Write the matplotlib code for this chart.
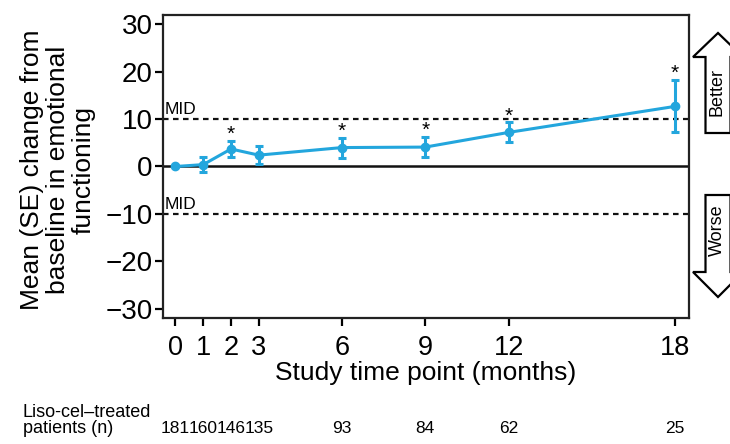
import matplotlib
matplotlib.use("Agg")
import matplotlib.pyplot as plt
import matplotlib.transforms as mtransforms
from matplotlib.patches import Polygon

plt.rcParams['font.family'] = ['Liberation Sans', 'DejaVu Sans']

# values
months = [0, 1, 2, 3, 6, 9, 12, 18]
mean_change = [0.0, 0.4, 3.7, 2.4, 4.0, 4.1, 7.2, 12.7]
se = [0.0, 1.6, 1.7, 1.9, 2.1, 2.1, 2.1, 5.5]
significant = [False, False, True, False, True, True, True, True]
n_patients = [181, 160, 146, 135, 93, 84, 62, 25]
mid = 10
y_ticks = [-30, -20, -10, 0, 10, 20, 30]

blue = '#23a6dd'
W, H = 730, 444

fig = plt.figure(figsize=(W / 100, H / 100), dpi=100)
ax = fig.add_axes([163 / W, 1 - 318 / H, (689 - 163) / W, (318 - 15) / H])

ax.axhline(0, color='#111111', lw=1.8, zorder=1)
ax.axhline(mid, color='#111111', lw=1.6, ls=(0, (2.5, 2)), zorder=1)
ax.axhline(-mid, color='#111111', lw=1.6, ls=(0, (2.5, 2)), zorder=1)
ax.text(-0.38, mid + 0.4, 'MID', fontsize=12.5, ha='left', va='bottom')
ax.text(-0.38, -mid + 0.4, 'MID', fontsize=12.5, ha='left', va='bottom')

ax.errorbar(months, mean_change, yerr=se, color=blue, lw=2.2, marker='o', ms=6,
            capsize=3, capthick=2.2, elinewidth=2.2, zorder=3)

for m, v, e, s in zip(months, mean_change, se, significant):
    if s:
        ax.text(m, v + e + 1.4, '*', fontsize=15, ha='center', va='center')

ax.set_xlim(-0.45, 18.5)
ax.set_ylim(-32, 32)
ax.set_xticks(months)
ax.set_yticks(y_ticks)
ax.tick_params(axis='x', labelsize=19.5, length=6, width=1.6, pad=6)
ax.tick_params(axis='y', labelsize=20, length=6, width=1.6, pad=1.5)
for sp in ax.spines.values():
    sp.set_linewidth(1.6)
    sp.set_color('#222222')

ax.set_xlabel('Study time point (months)', fontsize=19, labelpad=0)
fig.text(58 / W, 1 - 170 / H, 'Mean (SE) change from\nbaseline in emotional\nfunctioning',
         rotation=90, ha='center', va='center', multialignment='center', fontsize=19,
         linespacing=1.1)

# number of patients row
trans = mtransforms.blended_transform_factory(ax.transData, fig.transFigure)
for m, n in zip(months, n_patients):
    ax.text(m, 1 - 428 / H, str(n), transform=trans, fontsize=12.5, ha='center',
            va='center', clip_on=False)
fig.text(23 / W, 1 - 420.5 / H, 'Liso-cel\u2013treated\npatients (n)', fontsize=13,
         ha='left', va='center', linespacing=0.9)

# Better / Worse arrows
def arrow(tip, base, end):
    cx, hw, sw = 718, 25, 12.5
    pts = [(cx, tip), (cx - hw, base), (cx - sw, base), (cx - sw, end),
           (cx + sw, end), (cx + sw, base), (cx + hw, base)]
    pts = [(x / W, 1 - y / H) for x, y in pts]
    fig.patches.append(Polygon(pts, closed=True, transform=fig.transFigure,
                               facecolor='white', edgecolor='black', lw=1.6))

arrow(33, 57, 133)
arrow(297, 272, 195)
fig.text(717 / W, 1 - 92 / H, 'Better', rotation=90, fontsize=13, ha='center', va='center')
fig.text(717 / W, 1 - 230 / H, 'Worse', rotation=90, fontsize=13, ha='center', va='center')

fig.savefig('out.png', dpi=100)
